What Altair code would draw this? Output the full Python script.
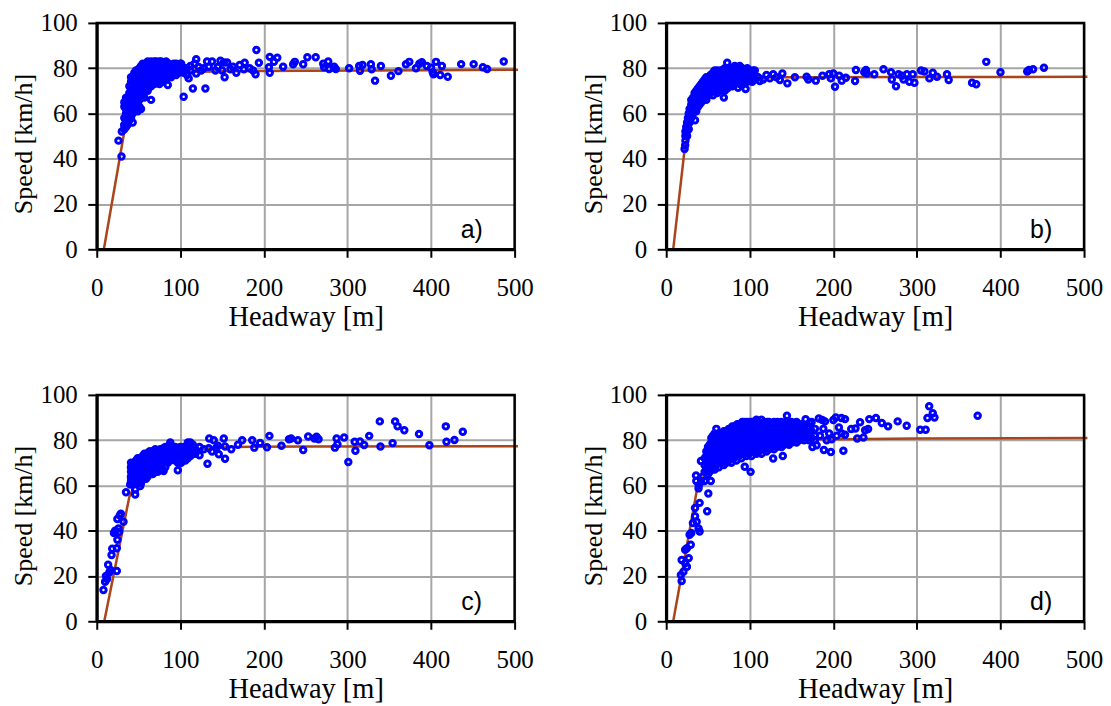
import altair as alt
import pandas as pd

# ---------------- data ----------------
# axes
x_ticks = [0, 100, 200, 300, 400, 500]
y_ticks = [0, 20, 40, 60, 80, 100]
panel_labels = ["a)", "b)", "c)", "d)"]

# fitted speed-headway curves (headway m, speed km/h)
a_line = [(8.5, 0), (33, 52), (42, 65), (55, 73), (75, 77), (100, 78.2), (150, 78.6), (250, 78.9), (400, 79.1), (504, 79.3)]
b_line = [(8.4, 0), (22, 44), (30, 58), (40, 66), (55, 72), (75, 75), (100, 75.8), (150, 76.0), (300, 76.1), (504, 76.2)]
c_line = [(9, 0), (39, 55), (50, 64), (65, 70), (90, 74), (120, 76), (160, 77), (250, 77.2), (504, 77.3)]
d_line = [(8.4, 0), (36.5, 57.5), (50, 68), (70, 74), (100, 77.5), (140, 79.5), (175, 80.3), (300, 80.7), (504, 81)]

# scattered observations: sparse points
a_sparse = [(26, 48), (29.6, 41), (30, 52), (33, 54.7), (43, 56), (65, 66), (85, 72.6), (104, 67.4), (115, 71), (130, 71),
            (110, 75.5), (153, 76), (167, 78), (191, 88), (194, 82.4), (190, 77.3), (207, 85), (207, 78), (216, 84.6),
            (212, 82.8), (206, 80.4), (223, 80.6), (235, 81.7), (237, 82.8), (247, 81.7), (252, 84.8), (262, 84.8),
            (271, 82), (272, 80.4), (277, 83), (278, 79.6), (284, 80.6), (286, 79.6), (302, 80), (314, 81), (315, 78.9),
            (318, 81.4), (328, 81.7), (329, 79.5), (333, 74.5), (340, 81), (352, 76.7), (361, 78.7), (370, 81.7),
            (374, 82.8), (382, 80), (386, 82), (389, 82.6), (395, 81), (400, 80.2), (402, 78.2), (403, 77.3), (406, 82.8),
            (411, 77), (413, 81), (420, 76.2), (436, 81.8), (451, 81.8), (462, 80.4), (467, 79.6), (487, 83), (119, 84),
            (117, 82), (132, 83), (138, 83), (148, 83.3), (152, 82.5), (156, 82.5), (150, 79), (142, 79), (163, 80.6),
            (177, 82.4), (183, 80), (187, 79), (171, 81.4), (134, 80.6), (119, 77.7), (125, 79), (145, 80.5), (160, 79.5),
            (176, 79.5), (96, 80), (100, 82), (105, 80), (122, 80.5), (128, 80)]
b_sparse = [(22, 44.3), (22.7, 46), (34.5, 57), (73, 82.4), (69, 67), (86, 71.4), (95, 70.8), (104, 79), (110, 76),
            (112, 74.3), (120, 77), (128, 77.3), (139, 77.7), (136, 74.8), (145, 73.3), (154, 76), (168, 76.2), (170, 75),
            (179, 74.5), (187, 76.7), (195, 77.3), (200, 77.7), (197, 75.5), (202, 71.8), (207, 76.7), (210, 74.5),
            (215, 75.8), (227, 79.2), (226, 74.3), (237, 78.2), (239, 79.2), (240, 77.7), (249, 77.3), (260, 79.5),
            (269, 78.2), (270, 75), (275, 72), (278, 77.3), (282, 76.7), (284, 75), (288, 77.3), (291, 74), (295, 77.3),
            (297, 73.6), (305, 79), (309, 78.5), (315, 75.5), (319, 78), (324, 76.2), (336, 77.3), (338, 74.8),
            (366, 73.6), (371, 72.9), (383, 82.8), (400, 78.2), (432, 78.5), (434, 79.2), (439, 79.5), (452, 80.2),
            (116, 75), (124, 75.5), (132, 76)]
c_sparse = [(8, 13.8), (10, 17.5), (11, 20), (12.3, 18.7), (13.6, 25), (15, 21.5), (16.5, 22.7), (17.7, 29.3), (18.5, 32),
            (20.6, 39), (24, 32.3), (24.7, 36), (24, 22.2), (24.7, 45.2), (26.7, 39.4), (27.6, 46.7), (28.8, 47.5),
            (22, 40), (26, 41), (32, 44), (35, 57), (40, 60.4), (41, 63.4), (41, 67.8), (46, 58.2), (46, 56), (52, 59.7),
            (80, 66.4), (97, 66.7), (87, 77.8), (79, 76.3), (101, 70), (111, 77.5), (123, 77), (123, 73.3), (132.5, 69.6),
            (134.6, 80.7), (134, 76.4), (140, 80), (145, 77.5), (146, 73.8), (152, 80.7), (153.5, 77.2), (153.5, 71.8),
            (161, 76), (169, 78), (174, 80), (186, 80), (188.5, 76.7), (195.5, 78.8), (203.7, 76.9), (206.6, 81.9),
            (221, 77.5), (230, 80.4), (232.5, 80.7), (240.7, 80), (247, 75.7), (253, 81.6), (260.5, 80.7), (263, 81.5),
            (265.4, 80.4), (285, 76.7), (287, 80.7), (288, 78.2), (296, 81.2), (301, 70.4), (308.6, 79.3), (309.5, 75.3),
            (315, 79.4), (320, 77.9), (326, 81.9), (338.7, 88.3), (339.5, 77.2), (354, 78.7), (357, 88.3), (360, 86.1),
            (368, 84.4), (385.6, 82.7), (398, 77.8), (417.7, 86.1), (418.5, 79.3), (428, 80.1), (438, 83.7),
            (128, 76), (138, 75), (143, 76.5)]
d_sparse = [(18.5, 17.8), (17.6, 20.4), (18.5, 27.1), (20.6, 21.9), (22.7, 25.6), (24.8, 24.1), (22.7, 31.6), (24.8, 32.3),
            (27, 27.9), (29.4, 33.8), (28, 38.2), (30, 39), (32, 43.4), (34.5, 46.4), (34.5, 50), (36.5, 44), (38.7, 41),
            (40, 39.7), (40, 52.3), (38.7, 58.7), (35.7, 64.4), (41.6, 61.5), (49, 48.6), (50.4, 56.4), (53.4, 62),
            (41.6, 70.8), (94, 68.3), (101, 66), (128, 71.9), (139.5, 73), (144.5, 90.8), (166.8, 89.2), (172, 87.7),
            (175, 77), (180, 77.8), (182.6, 89.6), (186.8, 88.9), (190, 88.3), (188.7, 75.7), (197, 74.8), (198, 80.4),
            (200, 88.9), (203, 90), (206.7, 85.6), (209.7, 89.8), (214, 89.3), (212, 75.3), (214, 82.4), (221.4, 84.9),
            (226.5, 85.2), (228.6, 80.7), (232, 87.9), (236, 81.2), (238, 84.4), (241.6, 84.9), (243, 89.3), (251, 89.8),
            (258, 87.6), (265.5, 86.1), (277, 88.3), (287.8, 86.4), (304, 84.6), (310.5, 84.6), (312.6, 89.8),
            (314.7, 95), (319, 91.9), (321, 90), (372.7, 90.8), (44, 64), (46, 62), (36, 62), (39, 60),
            (184, 82), (188, 85), (192, 80), (195, 83), (204, 82), (210, 83)]

# dense clusters: (headway, [speeds observed at about that headway])
a_dense = [(33, [53, 55, 58, 63, 65]), (35, [54, 57, 60, 62, 66, 67]), (37, [55, 58, 61, 64, 67]),
           (39, [57, 60, 63, 66, 69, 72]), (41, [58, 62, 65, 68, 71, 74, 76]), (43, [60, 64, 67, 70, 73, 76]),
           (45, [61, 64, 67, 70, 73, 76, 78]), (47, [62, 65, 68, 71, 74, 77, 79]), (49, [61, 64, 67, 70, 73, 76, 79]),
           (51, [63, 66, 69, 72, 75, 78, 80]), (53, [62, 67, 70, 73, 76, 79, 81]), (55, [68, 71, 74, 77, 80, 82]),
           (57, [67, 70, 73, 76, 79, 81]), (59, [71, 74, 77, 80, 82]), (61, [70, 72, 75, 78, 81, 83]),
           (63, [73, 76, 79, 82]), (65, [72, 75, 78, 81, 83]), (67, [74, 77, 80, 82]), (69, [73, 76, 79, 82, 83]),
           (71, [75, 78, 81, 83]), (73, [74, 77, 80, 82]), (75, [73, 76, 79, 82, 83]), (77, [75, 78, 81, 83]),
           (79, [74, 77, 80, 82]), (81, [76, 79, 82]), (83, [75, 78, 81, 83]), (86, [77, 80, 82]), (89, [76, 79, 81]),
           (92, [78, 80, 82]), (95, [77, 79, 82]), (98, [78, 81]), (101, [79, 82]), (104, [78, 80]), (108, [77, 80]),
           (112, [79, 81])]
a_fill = [(44, [66, 72, 75]), (48, [69, 72, 75, 78]), (52, [71, 74, 77]), (56, [72, 75, 78, 81]), (60, [73, 76, 79, 81]),
          (64, [74, 77, 80, 82]), (68, [75, 78, 81]), (72, [76, 79, 82]), (76, [75, 78, 81]), (80, [76, 78, 81]),
          (85, [78, 81]), (90, [77, 80])]
b_dense = [(23, [48, 50, 52]), (24, [51, 54]), (25, [50, 53, 56]), (26, [55, 58]), (27, [53, 57, 60]), (28, [56, 59, 62]),
           (30, [58, 61, 64, 66]), (32, [60, 63, 65, 67]), (34, [62, 65, 67, 69]), (36, [61, 64, 66, 68, 70]),
           (38, [63, 66, 68, 70, 71]), (40, [64, 66, 68, 70, 72]), (42, [65, 67, 69, 71, 73]), (44, [66, 68, 70, 72, 74]),
           (46, [67, 69, 71, 73, 75]), (48, [66, 68, 70, 72, 74, 76]), (50, [68, 70, 72, 74, 76]),
           (53, [69, 71, 73, 75, 77]), (56, [68, 70, 72, 74, 76, 78]), (58, [70, 72, 74, 76, 79]),
           (61, [69, 71, 73, 75, 77, 79]), (64, [70, 72, 74, 76, 78]), (67, [71, 73, 75, 77, 79]),
           (70, [70, 72, 74, 76, 78, 80]), (73, [71, 73, 75, 77, 79]), (76, [72, 74, 76, 78, 80]),
           (79, [72, 74, 76, 78, 80]), (82, [73, 75, 77, 79, 81]), (85, [74, 76, 78, 80]), (88, [73, 75, 77, 79, 81]),
           (91, [74, 76, 78, 80]), (94, [75, 77, 79]), (97, [74, 76, 78, 80]), (100, [75, 77, 79]), (103, [74, 76, 78]),
           (106, [75, 77, 79])]
b_fill = [(37, [65, 67, 69]), (41, [67, 69, 71]), (45, [68, 70, 72, 74]), (49, [69, 71, 73, 75]), (54, [70, 72, 74, 76]),
          (59, [71, 73, 75, 77]), (65, [71, 73, 75, 77, 79]), (71, [73, 75, 77, 79]), (77, [73, 75, 77, 79]),
          (83, [74, 76, 78, 80]), (89, [74, 76, 78, 80]), (95, [76, 78])]
c_dense = [(41, [62, 64, 66, 68, 70]), (43, [61, 63, 65, 67, 69]), (45, [62, 64, 66, 68, 70]), (47, [63, 65, 67, 69, 71]),
           (49, [62, 64, 66, 68, 70, 72]), (51, [63, 65, 67, 69, 71]), (53, [61, 64, 66, 68, 70, 72]),
           (55, [63, 65, 67, 69, 71, 73]), (57, [64, 66, 68, 70, 72, 74]), (59, [63, 65, 67, 69, 71, 73]),
           (61, [64, 66, 68, 70, 72, 74]), (63, [65, 67, 69, 71, 73, 75]), (65, [66, 68, 70, 72, 74]),
           (67, [65, 67, 69, 71, 73, 75]), (70, [66, 68, 70, 72, 74, 76]), (73, [66, 69, 71, 73, 75]),
           (76, [68, 70, 72, 74, 76]), (79, [67, 70, 72, 74, 76]), (82, [68, 71, 73, 75, 77]), (85, [70, 72, 74, 76]),
           (88, [71, 73, 75, 77, 79]), (91, [72, 74, 76]), (94, [71, 73, 75, 77]), (97, [70, 72, 74, 76]),
           (100, [71, 73, 75, 77]), (103, [72, 74, 76]), (106, [71, 73, 75, 77]), (109, [72, 74, 76, 78, 79]),
           (112, [73, 75, 77, 79]), (115, [74, 76, 78]), (118, [74, 76])]
c_fill = [(44, [64, 66, 68]), (48, [65, 67, 69, 71]), (52, [64, 66, 68, 70, 72]), (56, [66, 68, 70, 72]),
          (60, [66, 68, 70, 72, 74]), (64, [67, 69, 71, 73, 75]), (68, [68, 70, 72, 74]), (72, [69, 71, 73, 75]),
          (78, [71, 73, 75]), (84, [71, 73, 75, 77]), (90, [73, 75, 77]), (96, [73, 75]), (104, [73, 75, 77]),
          (110, [74, 76, 78])]
d_dense = [(46, [66, 69, 72]), (48, [67, 70, 73, 75]), (50, [65, 68, 71, 74, 77]), (52, [66, 69, 72, 75, 78]),
           (54, [67, 70, 73, 76, 79, 81]), (56, [68, 71, 74, 77, 80, 82]), (58, [67, 70, 73, 76, 79, 83]),
           (60, [69, 72, 75, 78, 81, 85]), (63, [68, 71, 74, 77, 80, 83]), (66, [70, 73, 76, 79, 82]),
           (69, [69, 72, 75, 78, 81, 84]), (72, [70, 73, 76, 79, 82, 84]), (75, [71, 74, 77, 80, 83, 85]),
           (78, [70, 73, 76, 79, 82, 85]), (81, [72, 75, 78, 81, 84, 86]), (84, [71, 74, 77, 80, 83, 86]),
           (87, [73, 76, 79, 82, 85, 87]), (90, [72, 75, 78, 81, 84, 87]), (93, [74, 77, 80, 83, 86, 88]),
           (96, [73, 76, 79, 82, 85, 88]), (99, [74, 77, 80, 83, 86, 88]), (102, [73, 76, 79, 82, 85, 88]),
           (105, [75, 78, 81, 84, 87]), (108, [74, 77, 80, 83, 86, 89]), (111, [75, 78, 81, 84, 87]),
           (114, [74, 77, 80, 83, 86, 89]), (117, [76, 79, 82, 85, 88]), (120, [75, 78, 81, 84, 87]),
           (123, [76, 79, 82, 85, 88]), (126, [77, 80, 83, 86]), (129, [76, 79, 82, 85, 88]), (132, [77, 80, 83, 86]),
           (135, [78, 81, 84, 87]), (138, [77, 80, 83, 86, 88]), (141, [78, 81, 84, 87]), (144, [79, 82, 85, 88]),
           (147, [78, 81, 84, 87]), (150, [79, 82, 85, 88]), (153, [80, 83, 86]), (156, [79, 82, 85, 88]),
           (159, [80, 83, 86]), (162, [81, 84, 87]), (165, [80, 83, 86]), (168, [81, 84]), (171, [80, 83, 86]),
           (174, [81, 84, 88]), (178, [80, 82, 85])]
d_fill = [(57, [72, 75, 78, 81]), (62, [73, 76, 79, 82]), (67, [74, 77, 80, 83]), (73, [75, 78, 81, 84]),
          (79, [74, 77, 80, 83, 86]), (85, [75, 78, 81, 84, 87]), (91, [76, 79, 82, 85, 88]), (97, [75, 78, 81, 84, 87]),
          (103, [77, 80, 83, 86, 88]), (109, [76, 79, 82, 85, 88]), (115, [78, 81, 84, 87]), (121, [77, 80, 83, 86, 88]),
          (127, [78, 81, 84, 87]), (133, [79, 82, 85, 88]), (139, [79, 82, 85]), (145, [80, 83, 86]), (151, [81, 84, 87]),
          (157, [81, 84, 87]), (163, [82, 85]), (170, [82, 85])]

# ---------------- style ----------------
BLUE = "#0000FF"
BROWN = "#A9441B"
GRID = "#A6A6A6"
SERIF = "Liberation Serif"
SANS = "Liberation Sans"
PW, PH = 419, 227


def points_table(sparse, dense, fill):
    rows = list(sparse)
    for group in (dense, fill):
        for h, speeds in group:
            for s in speeds:
                rows.append((h, s))
    return pd.DataFrame(rows, columns=["h", "v"])


def panel(sparse, dense, fill, line, label):
    pts = points_table(sparse, dense, fill)
    ldf = pd.DataFrame(line, columns=["h", "v"])
    x = alt.X("h:Q", scale=alt.Scale(domain=[0, 500], nice=False, zero=False),
              axis=alt.Axis(values=x_ticks, title="Headway [m]"))
    y = alt.Y("v:Q", scale=alt.Scale(domain=[0, 100], nice=False, zero=False),
              axis=alt.Axis(values=y_ticks, title="Speed [km/h]"))
    ln = alt.Chart(ldf).mark_line(color=BROWN, strokeWidth=2.5, clip=False).encode(x=x, y=y)
    pt = alt.Chart(pts).mark_point(shape="circle", filled=False, color=BLUE, size=30,
                                   strokeWidth=3, opacity=1).encode(x=x, y=y)
    frame = alt.Chart(pd.DataFrame({"k": [0]})).mark_rect(fill=None, stroke="black", strokeWidth=2.5).encode(
        x=alt.value(0), x2=alt.value(PW), y=alt.value(0), y2=alt.value(PH))
    lab = alt.Chart(pd.DataFrame({"t": [label]})).mark_text(
        font=SANS, fontSize=25, align="center", baseline="middle", color="black").encode(
        x=alt.value(376), y=alt.value(208), text="t:N")
    return alt.layer(ln, pt, frame, lab).properties(width=PW, height=PH)


pa = panel(a_sparse, a_dense, a_fill, a_line, panel_labels[0])
pb = panel(b_sparse, b_dense, b_fill, b_line, panel_labels[1])
pc = panel(c_sparse, c_dense, c_fill, c_line, panel_labels[2])
pd_ = panel(d_sparse, d_dense, d_fill, d_line, panel_labels[3])

chart = alt.concat(pa, pb, pc, pd_, columns=2, spacing=alt.RowColnumber(row=146, column=152),
                   bounds="flush").properties(
    padding={"left": 3, "top": 2, "right": 0, "bottom": 2}
).configure_axis(
    grid=True, gridColor=GRID, gridWidth=2, gridOpacity=1,
    domainColor="black", domainWidth=3, tickColor="black", tickWidth=2,
    labelFont=SERIF, labelFontSize=25, labelColor="black",
    titleFont=SERIF, titleFontWeight="normal", titleColor="black",
).configure_axisX(
    tickSize=8, labelPadding=18, titlePadding=2, titleFontSize=28.5, labelFlush=False, labelOverlap=False
).configure_axisY(
    tickSize=9, labelPadding=10.5, titlePadding=3, titleFontSize=26, titleY=121, labelOverlap=False
).configure_view(stroke=None)

chart.save("out.html", embed_options={"renderer": "svg", "actions": False})
